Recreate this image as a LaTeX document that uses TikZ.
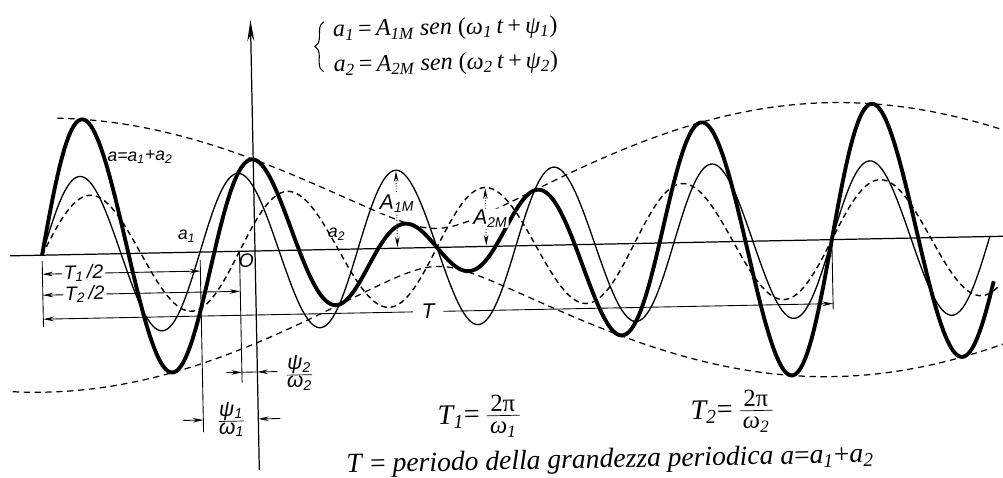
\documentclass[tikz,border=0pt]{standalone}
\usepackage{fontspec}
\setmainfont{Liberation Serif}
\setsansfont{Liberation Sans}
\usetikzlibrary{arrows.meta,decorations.pathreplacing}
\newcommand\lsub[1]{\textsubscript{#1}}
\newcommand\smallpart[1]{\mbox{\fontsize{14}{14}\selectfont #1}}
\tikzset{
  sumcurve/.style={line width=2.2pt, line join=round},
  onecurve/.style={line width=0.75pt},
  twocurve/.style={line width=0.8pt, dash pattern=on 3.2pt off 2.2pt},
  envcurve/.style={line width=0.7pt, dash pattern=on 3.6pt off 2.6pt},
  axisline/.style={line width=0.7pt},
  dimline/.style={line width=0.5pt},
  tips/.style={{Stealth[length=6pt,width=2.6pt]}-{Stealth[length=6pt,width=2.6pt]}},
  tipr/.style={-{Stealth[length=6pt,width=2.6pt]}},
  lbl/.style={font=\sffamily\itshape\fontsize{10}{12}\selectfont, inner sep=1pt},
  eq/.style={font=\itshape\fontsize{13.7}{17}\selectfont, inner sep=0pt},
  formula/.style={font=\itshape\fontsize{16}{19}\selectfont, inner sep=0pt},
  bracestyle/.style={line width=0.6pt, decorate, decoration={brace, amplitude=5pt}},
}
\begin{document}
\begin{tikzpicture}[x=0.02cm,y=0.02cm]
\useasboundingbox (0,0) rectangle (1003,-477);
\begin{scope}[shift={(255,-251)}, rotate=1.13, transform shape]
 % axes
 \coordinate (hl) at (-245,0); \coordinate (hr) at (748,0);
 \draw[axisline] (hl) -- (hr);
 \coordinate (vb) at (0,-219); \coordinate (vt) at (0,231);
 \draw[axisline, -{Stealth[length=12pt,width=4pt]}] (vb) -- (vt);
 % envelopes
 \draw[envcurve, domain=-195:748, samples=200] plot (\x,{10*sqrt(95.65+92.04*cos(((\x+213)/790)*360))});
 \draw[envcurve, domain=-245:748, samples=200] plot (\x,{-10*sqrt(95.65+92.04*cos(((\x+213)/790)*360))});
 % a2
 \draw[twocurve, domain=-213:742, samples=300] plot (\x,{59*sin(((\x+213)/197.5)*360)});
 % a1
 \draw[onecurve, domain=-213:735, samples=400] plot (\x,{78*sin(((\x+213)/158)*360)});
 % a = a1 + a2
 \draw[sumcurve, domain=-213:738, samples=500] plot (\x,{78*sin(((\x+213)/158)*360)+59*sin(((\x+213)/197.5)*360)});
 % vertical reference lines
 \coordinate (L0) at (-213,-6); \coordinate (L1) at (-213,-72);
 \draw[dimline] (L0) -- (L1);
 \coordinate (P1t) at (-55,-8); \coordinate (P1b) at (-55,-180);
 \draw[dimline] (P1t) -- (P1b);
 \coordinate (P2t) at (-15.5,0); \coordinate (P2b) at (-15.5,-131);
 \draw[dimline] (P2t) -- (P2b);
 \coordinate (Rt) at (577,0); \coordinate (Rb) at (577,-70);
 \draw[dimline] (Rt) -- (Rb);
 % period dimension lines
 \coordinate (t1a) at (-213,-19); \coordinate (t1b) at (-55,-19);
 \draw[dimline, tips] (t1a) -- (t1b);
 \node[lbl, fill=white] (t1l) at (-172,-19) {\fontsize{11}{13}\selectfont T\lsub{1}\,/2};
 \coordinate (t2a) at (-213,-40); \coordinate (t2b) at (-15.5,-40);
 \draw[dimline, tips] (t2a) -- (t2b);
 \node[lbl, fill=white] (t2l) at (-171,-40) {\fontsize{11}{13}\selectfont T\lsub{2}\,/2};
 \coordinate (ta) at (-213,-64); \coordinate (tb) at (577,-64);
 \draw[dimline, tips] (ta) -- (tb);
 \node[lbl, fill=white, inner xsep=5pt] (tl) at (172,-64) {\fontsize{12}{14}\selectfont T};
 % phase dimensions
 \coordinate (q1a) at (-75,-168); \coordinate (q1b) at (-55,-168);
 \draw[dimline, tipr] (q1a) -- (q1b);
 \coordinate (q1c) at (22,-168); \coordinate (q1d) at (0,-168);
 \draw[dimline, tipr] (q1c) -- (q1d);
 \node[lbl] (q1l) at (-27,-168) {\fontsize{12}{14}\selectfont$\frac{\mbox{ψ\lsub{1}}}{\mbox{ω\lsub{1}}}$};
 \coordinate (q2a) at (-31,-121); \coordinate (q2b) at (-15.5,-121);
 \draw[dimline, tipr] (q2a) -- (q2b);
 \coordinate (q2c) at (20,-121); \coordinate (q2d) at (0,-121);
 \draw[dimline, tipr] (q2c) -- (q2d);
 \draw[dimline] (q2b) -- (q2d);
 \node[lbl] (q2l) at (42,-123) {\fontsize{12}{14}\selectfont$\frac{\mbox{ψ\lsub{2}}}{\mbox{ω\lsub{2}}}$};
 % amplitude markers
 \coordinate (m1t) at (142.5,77); \coordinate (m1b) at (142.5,1);
 \draw[dimline, densely dotted, tips] (m1t) -- (m1b);
 \node[lbl, fill=white, inner sep=0.5pt] (m1l) at (143,45) {\fontsize{12}{14}\selectfont A\lsub{1M}};
 \coordinate (m2t) at (231.4,58); \coordinate (m2b) at (231.4,1);
 \draw[dimline, densely dotted, tips] (m2t) -- (m2b);
 \node[lbl, fill=white, inner sep=0.5pt] (m2l) at (236,28) {\fontsize{12}{14}\selectfont A\lsub{2M}};
 % curve labels
 \node[lbl] (sl) at (-113,96) {a=a\lsub{1}+a\lsub{2}};
 \node[lbl] (l1) at (-68,16) {a\lsub{1}};
 \node[lbl] (l2) at (82,15) {a\lsub{2}};
 \node[lbl] (ol) at (-9,-10) {\fontsize{11}{13}\selectfont O};
 % formulas
 \coordinate (brb) at (72,178); \coordinate (brt) at (73.5,228);
 \draw[bracestyle] (brb) -- (brt);
 \node[eq, anchor=west] (eqs) at (82,201) {\begin{tabular}{@{}l@{}}
   a\lsub{1}\textup{\,=\,}A\lsub{1M} sen \textup{(}ω\lsub{1}\,t\textup{\,+\,}ψ\lsub{1}\textup{)}\\[3pt]
   a\lsub{2}\textup{\,=\,}A\lsub{2M} sen \textup{(}ω\lsub{2}\,t\textup{\,+\,}ψ\lsub{2}\textup{)}
   \end{tabular}};
 \node[formula, anchor=west] (f1) at (179,-170) {T\lsub{1}\textup{=}\,$\frac{\smallpart{\upshape\,2π\,}}{\smallpart{ω\lsub{1}}}$};
 \node[formula, anchor=west] (f2) at (432,-170) {T\lsub{2}\textup{=}\,$\frac{\smallpart{\upshape\,2π\,}}{\smallpart{ω\lsub{2}}}$};
 \node[formula, font=\itshape\fontsize{15.7}{19}\selectfont] (per) at (351,-217) {T \textup{=} periodo della grandezza periodica a\textup{=}a\lsub{1}\textup{+}a\lsub{2}};
\end{scope}
\end{tikzpicture}
\end{document}
